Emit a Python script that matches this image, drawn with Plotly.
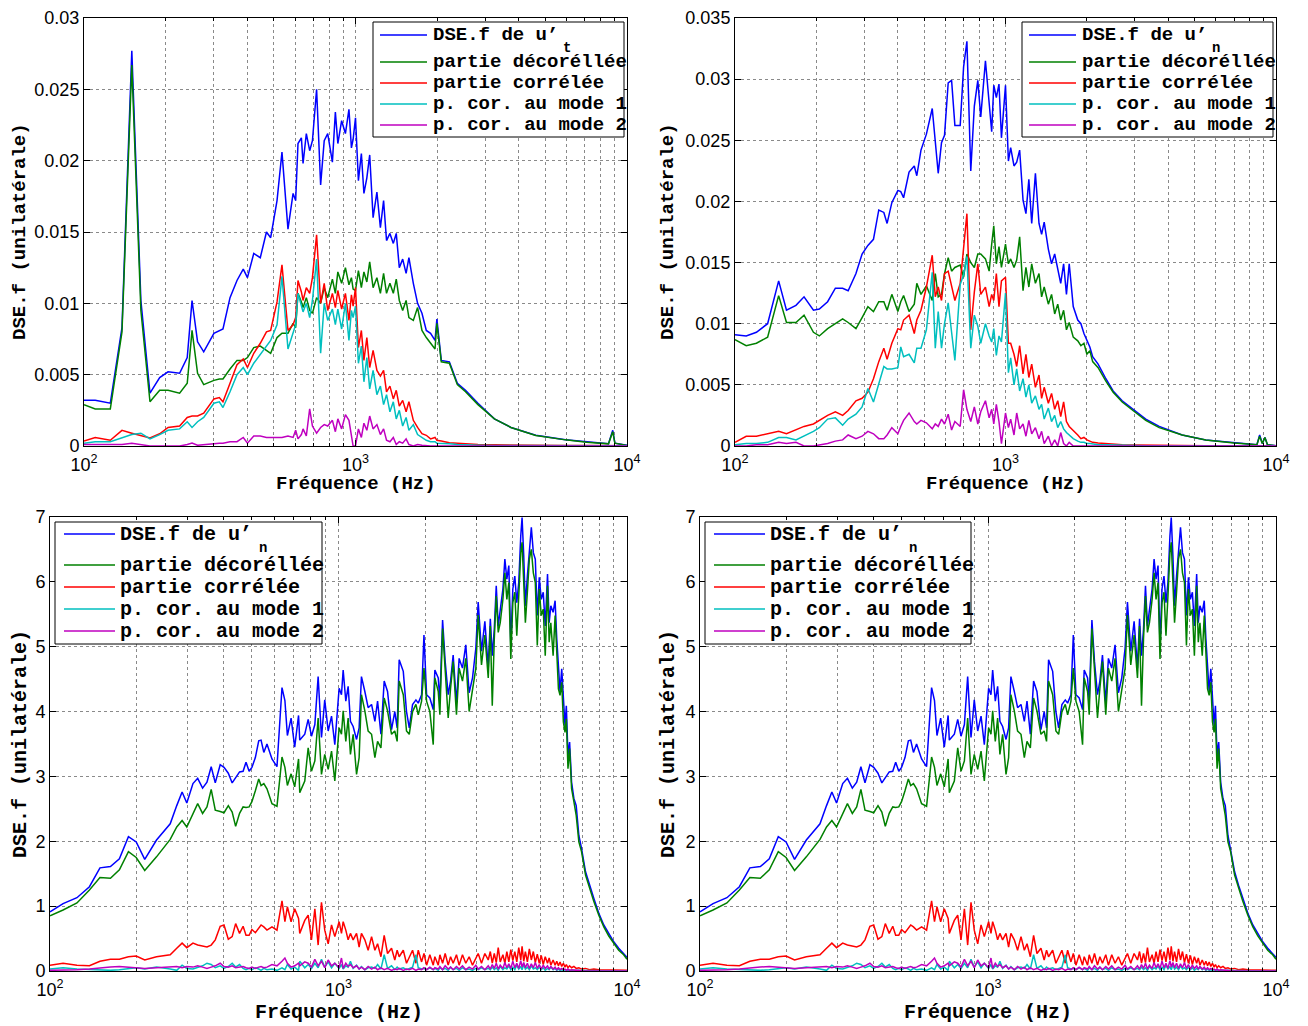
import plotly.graph_objects as go

# ---------------- top-left panel (u't) ----------------
F_TL = [100,110,125,138,150,162,175,190,204,225,
        240,250,262,276,301,315,325,345,366,386,
        400,422,446,470,487,514,536,564,589,602,
        614,632,641,659,678,694,719,744,767,790,
        822,843,861,889,918,946,966,980,1000,1025,
        1051,1074,1101,1128,1161,1199,1235,1269,1301,1339,
        1378,1413,1450,1492,1536,1573,1633,1693,1757,1823,
        1890,1963,1994,2070,2217,2372,2542,2825,3248,3737,
        4613,5939,7089,8548,8862,9023,10000]
TL_TOTAL = [0.0032,0.0032,0.0030,0.0083,0.0277,0.0102,0.0037,0.0048,0.0052,0.0051,
            0.0062,0.0102,0.0073,0.0066,0.0079,0.0081,0.0082,0.0104,0.0116,0.0124,
            0.0118,0.0135,0.0132,0.0150,0.0146,0.0172,0.0206,0.0152,0.0177,0.0172,
            0.0212,0.0216,0.0198,0.0219,0.0207,0.0214,0.0250,0.0183,0.0214,0.0219,
            0.0199,0.0234,0.0212,0.0228,0.0219,0.0236,0.0209,0.0215,0.0230,0.0186,
            0.0205,0.0177,0.0188,0.0204,0.0160,0.0178,0.0153,0.0172,0.0144,0.0149,
            0.0142,0.0149,0.0125,0.0131,0.0121,0.0132,0.0114,0.0100,0.0093,0.0081,
            0.0079,0.0074,0.0089,0.0060,0.0059,0.0044,0.0039,0.0030,0.0019,0.0013,
            0.00075,0.00044,0.00028,0.00016,0.0011,0.0002,0.00005]
TL_DECOR = [0.0029,0.0026,0.0026,0.0080,0.0267,0.0095,0.0031,0.0039,0.0039,0.0037,
            0.0044,0.0081,0.0051,0.0043,0.0046,0.0047,0.0047,0.0054,0.0060,0.0060,
            0.0062,0.0069,0.0070,0.0067,0.0065,0.0076,0.0079,0.0079,0.0086,0.0083,
            0.0107,0.0101,0.0097,0.0104,0.0095,0.0093,0.0104,0.0100,0.0111,0.0104,
            0.0117,0.0107,0.0122,0.0114,0.0125,0.0113,0.0118,0.0110,0.0109,0.0123,
            0.0111,0.0122,0.0115,0.0129,0.0111,0.0118,0.0107,0.0121,0.0107,0.0114,
            0.0107,0.0117,0.0102,0.0095,0.0102,0.0090,0.0088,0.0097,0.0081,0.0076,
            0.0072,0.0068,0.0086,0.0059,0.0058,0.0043,0.0038,0.0029,0.0019,0.0013,
            0.00074,0.00043,0.00027,0.00015,0.0010,0.0002,0.00004]
TL_COR = [0.00035,0.0006,0.0004,0.0011,0.0009,0.00075,0.00056,0.00086,0.0013,0.0014,
          0.0020,0.0021,0.0021,0.0023,0.0033,0.0034,0.0031,0.0044,0.0057,0.0061,
          0.0055,0.0065,0.0072,0.0080,0.0081,0.0101,0.0127,0.0081,0.0085,0.0090,
          0.0116,0.0108,0.0102,0.0111,0.0107,0.0118,0.0148,0.0100,0.0114,0.0095,
          0.0107,0.0097,0.0109,0.0096,0.0107,0.0088,0.0106,0.0098,0.0111,0.0069,
          0.0081,0.0060,0.0076,0.0055,0.0067,0.0053,0.0049,0.0053,0.0038,0.0042,
          0.0033,0.0039,0.0028,0.0032,0.0024,0.0031,0.0018,0.0013,0.00086,0.00075,
          0.0005,0.0006,0.0004,0.00035,0.00023,0.0002,0.00016,0.0001,0.00008,0.00006,
          0.00005,0.00004,0.00003,0.00002,0.00003,0.00002,0.00002]
TL_MODE1 = [0.0002,0.0003,0.0003,0.0006,0.0008,0.0009,0.0005,0.0008,0.0011,0.0012,
            0.0017,0.0013,0.0017,0.0020,0.0030,0.0031,0.0027,0.0038,0.0050,0.0055,
            0.0050,0.0058,0.0064,0.0070,0.0074,0.0085,0.0119,0.0068,0.0080,0.0085,
            0.0107,0.0098,0.0094,0.0100,0.0090,0.0102,0.0131,0.0065,0.0100,0.0088,
            0.0096,0.0085,0.0096,0.0082,0.0100,0.0074,0.0095,0.0090,0.0098,0.0058,
            0.0070,0.0045,0.0062,0.0040,0.0053,0.0036,0.0042,0.0029,0.0036,0.0024,
            0.0031,0.0019,0.0025,0.0014,0.0020,0.0011,0.0015,0.0008,0.0006,0.0004,
            0.0003,0.0003,0.0002,0.0002,0.00015,0.0001,0.0001,0.00006,0.00004,0.00003,
            0.00002,0.00002,0.00001,0.00001,0.00001,0.00001,0.00001]
TL_MODE2 = [0.0001,0.0001,0.0001,0.0001,0.0002,0.0001,0.0,0.0,0.0,0.0,
            0.0001,0.0002,0.00005,0.0001,0.0002,0.0002,0.0002,0.0003,0.0003,0.0006,
            0.0002,0.0007,0.0007,0.0006,0.0006,0.0006,0.0006,0.0007,0.0006,0.0011,
            0.0005,0.0008,0.0012,0.0007,0.0026,0.0014,0.0009,0.0013,0.0015,0.0014,
            0.0018,0.0010,0.0019,0.0012,0.0022,0.0018,0.0008,0.0,0.0,0.0012,
            0.0006,0.0016,0.0011,0.0021,0.0012,0.0015,0.0008,0.0012,0.0004,0.0003,
            0.0006,0.0001,0.0003,0.0002,0.0005,0.0001,0.0,0.0001,0.00005,0.0,
            0.0,0.0,0.0,0.0,0.0,0.0,0.0,0.0,0.0,0.0,
            0.0,0.0,0.0,0.0,0.0,0.0,0.0]

# ---------------- top-right panel (u'n) ----------------
F_TR = [100,110,120,132,145,155,168,180,195,205,
        220,235,250,262,280,295,310,325,340,355,
        365,380,400,410,420,440,460,470,487,510,
        536,550,564,580,595,614,632,650,680,700,
        720,744,767,790,810,843,870,889,905,925,
        946,966,1000,1025,1045,1075,1100,1128,1161,1190,
        1220,1250,1290,1330,1360,1390,1440,1480,1520,1560,
        1600,1640,1680,1720,1780,1850,1900,1950,2000,2050,
        2100,2200,2350,2500,2700,3000,3300,3700,4500,5500,
        7000,8500,8700,8900,9100,9300,10000]
TR_TOTAL = [0.0091,0.0090,0.0093,0.0100,0.0135,0.0111,0.0115,0.0122,0.0111,0.0112,
            0.0118,0.0129,0.0129,0.0127,0.0141,0.0157,0.0164,0.0169,0.0193,0.0191,
            0.0182,0.0199,0.0209,0.0208,0.0203,0.0224,0.0229,0.0221,0.0242,0.0255,
            0.0276,0.0252,0.0223,0.0248,0.0254,0.0297,0.0299,0.0262,0.0262,0.0310,
            0.0331,0.0225,0.0278,0.0299,0.0269,0.0315,0.0277,0.0257,0.0295,0.0285,
            0.0296,0.0252,0.0295,0.0233,0.0244,0.0229,0.0232,0.0242,0.0201,0.0190,
            0.0218,0.0182,0.0223,0.0182,0.0173,0.0183,0.0161,0.0149,0.0157,0.0146,
            0.0133,0.0149,0.0124,0.0149,0.0114,0.0103,0.0100,0.0092,0.0086,0.0081,
            0.0073,0.0067,0.0055,0.0045,0.0037,0.0029,0.0022,0.0016,0.0009,0.0005,
            0.00025,0.0001,0.0009,0.0002,0.0007,0.0001,0.00003]
TR_DECOR = [0.0087,0.0082,0.0084,0.0089,0.0123,0.0101,0.0101,0.0107,0.0093,0.0090,
            0.0096,0.0100,0.0104,0.0101,0.0096,0.0105,0.0114,0.0110,0.0118,0.0118,
            0.0111,0.0124,0.0110,0.0118,0.0123,0.0110,0.0116,0.0133,0.0124,0.0131,
            0.0119,0.0141,0.0122,0.0124,0.0141,0.0154,0.0143,0.0146,0.0148,0.0138,
            0.0157,0.0150,0.0146,0.0157,0.0157,0.0153,0.0143,0.0165,0.0180,0.0149,
            0.0163,0.0146,0.0165,0.0149,0.0153,0.0146,0.0152,0.0171,0.0127,0.0146,
            0.0130,0.0149,0.0133,0.0141,0.0122,0.0130,0.0116,0.0124,0.0108,0.0116,
            0.0103,0.0111,0.0095,0.0101,0.0089,0.0086,0.0082,0.0084,0.0075,0.0078,
            0.0069,0.0064,0.0053,0.0044,0.0036,0.0028,0.0021,0.0015,0.0009,0.0005,
            0.00024,0.0001,0.0008,0.0002,0.0007,0.0001,0.00003]
TR_COR = [0.0003,0.0008,0.0008,0.0010,0.0012,0.0010,0.0013,0.0016,0.0018,0.0021,
          0.0025,0.0028,0.0025,0.0029,0.0037,0.0039,0.0044,0.0055,0.0069,0.0080,
          0.0071,0.0084,0.0096,0.0095,0.0103,0.0107,0.0092,0.0103,0.0111,0.0130,
          0.0156,0.0122,0.0130,0.0119,0.0141,0.0143,0.0130,0.0119,0.0133,0.0164,
          0.0190,0.0095,0.0126,0.0149,0.0124,0.0130,0.0114,0.0124,0.0119,0.0141,
          0.0114,0.0135,0.0138,0.0084,0.0084,0.0075,0.0065,0.0082,0.0059,0.0075,
          0.0056,0.0067,0.0048,0.0058,0.0039,0.0048,0.0035,0.0043,0.0030,0.0037,
          0.0024,0.0036,0.0020,0.0016,0.0013,0.0009,0.0006,0.0007,0.0005,0.0004,
          0.0003,0.00025,0.0002,0.00015,0.0001,0.00008,0.00006,0.00005,0.00004,0.00003,
          0.00002,0.00002,0.00002,0.00002,0.00002,0.00002,0.00001]
TR_MODE1 = [0.0001,0.0002,0.0002,0.0003,0.0007,0.0007,0.0005,0.0008,0.0012,0.0015,
            0.0022,0.0023,0.0017,0.0022,0.0026,0.0032,0.0047,0.0036,0.0052,0.0065,
            0.0063,0.0063,0.0064,0.0081,0.0073,0.0075,0.0068,0.0080,0.0080,0.0095,
            0.0142,0.0080,0.0110,0.0080,0.0100,0.0117,0.0093,0.0070,0.0132,0.0140,
            0.0155,0.0080,0.0107,0.0098,0.0084,0.0100,0.0090,0.0085,0.0096,0.0074,
            0.0090,0.0085,0.0125,0.0060,0.0072,0.0050,0.0063,0.0045,0.0055,0.0040,
            0.0050,0.0035,0.0041,0.0030,0.0034,0.0022,0.0031,0.0020,0.0025,0.0015,
            0.0020,0.0014,0.0011,0.0009,0.0006,0.0004,0.0003,0.0003,0.0002,0.0002,
            0.00015,0.0001,0.0001,0.00008,0.00006,0.00004,0.00003,0.00002,0.00002,0.00001,
            0.00001,0.00001,0.00001,0.00001,0.00001,0.00001,0.00001]
TR_MODE2 = [0.0,0.0,0.0001,0.0001,0.0003,0.0002,0.0003,0.0,0.0,0.0001,
            0.0002,0.0004,0.0005,0.0009,0.0006,0.0008,0.0012,0.0010,0.0006,0.0006,
            0.0009,0.0015,0.0010,0.0016,0.0021,0.0027,0.0020,0.0018,0.0021,0.0019,
            0.0014,0.0018,0.0016,0.0022,0.0018,0.0026,0.0013,0.0020,0.0016,0.0046,
            0.0030,0.0020,0.0032,0.0018,0.0028,0.0037,0.0023,0.0030,0.0018,0.0034,
            0.0020,0.0002,0.0027,0.0015,0.0022,0.0009,0.0027,0.0014,0.0018,0.0008,
            0.0021,0.0010,0.0015,0.0006,0.0012,0.0002,0.0008,0.0,0.0005,0.0,
            0.0011,0.0002,0.0,0.0003,0.0,0.0,0.0,0.0,0.0,0.0,
            0.0,0.0,0.0,0.0,0.0,0.0,0.0,0.0,0.0,0.0,
            0.0,0.0,0.0,0.0,0.0,0.0,0.0]

# ---------------- bottom panels (identical, u'n) ----------------
F_B = [100,111,124,137,149,162,174,187,199,213,
       234,261,275,287,298,313,325,338,350,362,
       374,389,401,415,428,440,454,467,478,490,
       501,515,529,539,551,565,588,612,637,652,
       665,685,705,727,
       734,764,785,806,828,850,873,896,921,946,
       971,1005,1024,1038,1060,1080,1100,1124,1155,1179,
       1201,1234,1267,1302,1337,1366,1403,1440,1479,1527,
       1567,1597,1623,1677,1721,1759,1806,1855,1890,1941,
       1978,2020,2073,2130,2158,2217,2246,2295,2343,2400,
       2446,2497,2564,2619,2690,2762,2837,2914,2993,3049,
       3131,3216,3304,
       3359,3412,3467,3522,3578,3636,3714,3773,3833,3894,
       3956,4020,4084,4149,4215,4283,4328,4386,4444,4515,
       4587,4660,4735,4810,4887,4965,5044,5125,5207,5303,
       5373,5444,5545,5634,5709,5785,5861,5939,6018,6097,
       6162,6243,6325,6426,6545,6667,6810,6956,7183,7417,
       7676,7986,8310,8646,8996,9360,9738,9920,10000]
B_TOTAL = [0.91,1.04,1.13,1.30,1.59,1.61,1.73,2.07,1.99,1.72,
           2.02,2.27,2.55,2.76,2.59,2.89,2.97,2.82,2.91,3.15,
           2.90,3.18,3.14,3.05,2.90,2.98,3.07,3.08,3.22,3.08,
           3.14,3.29,3.55,3.56,3.37,3.50,3.27,3.15,4.37,4.17,
           3.63,3.90,3.45,3.94,
           3.56,3.65,3.88,3.62,3.80,4.54,3.60,4.18,3.70,3.93,
           3.49,4.36,4.26,4.64,4.16,4.39,3.85,3.77,3.57,3.75,
           4.54,4.31,4.06,4.11,3.85,4.16,3.65,4.47,4.31,3.72,
           4.00,3.75,4.80,4.62,4.00,3.75,4.11,4.18,4.13,4.26,
           5.18,4.26,4.21,4.03,4.64,4.52,4.16,5.41,4.77,4.26,
           4.47,4.87,4.13,4.82,4.67,5.03,4.29,4.52,4.98,5.69,
           4.93,5.39,4.67,
           5.43,4.86,5.27,5.94,5.32,5.58,5.89,6.35,6.04,6.25,
           5.02,5.89,6.09,5.68,5.99,6.71,6.99,6.40,5.63,6.09,
           6.55,6.84,6.45,6.35,5.48,6.07,5.73,5.84,5.32,6.12,
           5.37,5.63,5.53,5.71,5.12,4.66,4.30,4.66,4.14,3.78,
           4.09,3.32,3.53,2.91,2.66,2.55,2.09,1.89,1.53,1.32,
           1.12,0.89,0.71,0.58,0.45,0.35,0.27,0.22,0.21]
B_DECOR = [0.85,0.94,1.05,1.25,1.44,1.43,1.56,1.84,1.75,1.55,
           1.76,2.03,2.22,2.32,2.22,2.44,2.58,2.43,2.53,2.80,
           2.48,2.46,2.44,2.55,2.45,2.23,2.43,2.53,2.52,2.53,
           2.61,2.78,2.96,2.86,2.89,2.81,2.58,2.54,3.30,3.14,
           2.86,3.04,2.84,3.27,
           2.75,2.93,3.44,3.08,3.24,3.90,3.03,3.34,3.11,3.39,
           2.93,3.75,3.65,4.01,3.54,3.90,3.34,3.65,3.03,3.29,
           4.26,4.01,3.70,3.65,3.29,3.54,3.44,4.21,4.01,3.65,
           3.70,3.54,4.47,4.26,3.70,3.65,4.00,4.11,3.95,4.16,
           4.67,4.16,4.00,3.49,4.52,4.31,3.95,5.28,4.57,3.90,
           4.36,4.77,3.95,4.67,4.47,4.82,4.00,4.36,4.67,5.49,
           4.72,5.18,4.52,
           5.32,4.09,5.12,5.78,5.22,5.37,5.73,6.14,5.73,5.99,
           4.81,5.68,5.84,5.17,5.78,6.45,6.61,6.09,5.37,5.84,
           6.35,6.50,6.14,5.99,5.02,5.89,5.48,5.58,4.86,5.94,
           5.07,5.37,4.86,5.48,4.86,4.35,4.25,4.45,3.84,3.68,
           3.89,3.12,3.43,2.81,2.61,2.40,1.99,1.84,1.48,1.27,
           1.07,0.86,0.68,0.54,0.43,0.32,0.25,0.19,0.18]
B_COR = [0.09,0.12,0.09,0.08,0.15,0.18,0.18,0.22,0.23,0.17,
         0.22,0.25,0.35,0.43,0.36,0.43,0.40,0.39,0.37,0.40,
         0.48,0.69,0.71,0.49,0.53,0.73,0.58,0.69,0.55,0.55,
         0.64,0.59,0.66,0.71,0.68,0.63,0.68,0.63,1.08,0.76,
         0.99,0.76,0.96,0.81,
         0.58,0.78,0.86,0.48,0.96,0.40,1.06,0.63,0.42,0.71,
         0.53,0.76,0.58,0.76,0.63,0.48,0.58,0.48,0.58,0.37,
         0.58,0.48,0.32,0.53,0.32,0.42,0.22,0.55,0.27,0.35,
         0.17,0.32,0.22,0.32,0.12,0.22,0.32,0.12,0.32,0.14,
         0.27,0.09,0.25,0.09,0.22,0.09,0.25,0.12,0.27,0.09,
         0.22,0.12,0.25,0.09,0.25,0.12,0.22,0.09,0.19,0.27,
         0.12,0.27,0.17,
         0.30,0.12,0.27,0.13,0.36,0.14,0.25,0.12,0.30,0.14,
         0.33,0.16,0.30,0.14,0.36,0.17,0.38,0.15,0.30,0.14,
         0.34,0.17,0.30,0.13,0.26,0.12,0.24,0.10,0.22,0.12,
         0.20,0.09,0.17,0.09,0.15,0.08,0.14,0.07,0.12,0.06,
         0.10,0.05,0.08,0.05,0.07,0.04,0.05,0.03,0.04,0.02,
         0.03,0.02,0.02,0.01,0.01,0.01,0.01,0.01,0.01]
B_MODE1 = [0.03,0.05,0.03,0.02,0.01,0.01,0.02,0.04,0.05,0.03,
           0.06,0.03,0.01,0.09,0.04,0.03,0.05,0.08,0.12,0.10,
           0.05,0.08,0.04,0.07,0.12,0.06,0.10,0.04,0.02,0.04,
           0.02,0.05,0.03,0.01,0.04,0.02,0.03,0.01,0.05,0.02,
           0.10,0.03,0.06,0.01,
           0.15,0.05,0.10,0.04,0.12,0.05,0.18,0.06,0.14,0.05,
           0.12,0.04,0.10,0.03,0.08,0.06,0.15,0.04,0.09,0.03,
           0.07,0.02,0.05,0.06,0.04,0.10,0.03,0.25,0.04,0.08,
           0.02,0.06,0.03,0.05,0.02,0.04,0.06,0.25,0.05,0.03,
           0.04,0.02,0.05,0.02,0.04,0.01,0.05,0.02,0.04,0.01,
           0.06,0.02,0.04,0.01,0.05,0.02,0.03,0.01,0.04,0.02,
           0.05,0.02,0.04,
           0.02,0.06,0.02,0.05,0.01,0.07,0.02,0.05,0.03,0.08,
           0.02,0.06,0.02,0.09,0.03,0.07,0.02,0.10,0.03,0.06,
           0.02,0.08,0.03,0.05,0.02,0.06,0.02,0.05,0.01,0.04,
           0.02,0.06,0.02,0.04,0.01,0.03,0.01,0.02,0.01,0.02,
           0.01,0.01,0.01,0.01,0.01,0.01,0.0,0.0,0.0,0.0,
           0.0,0.0,0.0,0.0,0.0,0.0,0.0,0.0,0.0]
B_MODE2 = [0.01,0.01,0.02,0.03,0.05,0.06,0.07,0.06,0.06,0.04,
           0.05,0.06,0.07,0.05,0.07,0.06,0.08,0.06,0.04,0.06,
           0.08,0.12,0.07,0.06,0.08,0.05,0.06,0.07,0.05,0.04,
           0.06,0.04,0.06,0.07,0.05,0.06,0.10,0.08,0.15,0.20,
           0.12,0.06,0.08,0.12,
           0.08,0.14,0.12,0.06,0.18,0.08,0.15,0.05,0.17,0.08,
           0.12,0.05,0.20,0.04,0.12,0.07,0.10,0.05,0.08,0.03,
           0.06,0.02,0.07,0.03,0.06,0.02,0.05,0.02,0.04,0.01,
           0.03,0.02,0.04,0.01,0.03,0.02,0.04,0.01,0.03,0.02,
           0.05,0.02,0.06,0.02,0.05,0.03,0.07,0.02,0.08,0.03,
           0.06,0.02,0.07,0.03,0.08,0.02,0.06,0.03,0.09,0.03,
           0.07,0.02,0.08,
           0.03,0.10,0.04,0.12,0.03,0.09,0.04,0.13,0.05,0.11,
           0.04,0.15,0.05,0.12,0.04,0.16,0.06,0.13,0.05,0.12,
           0.04,0.11,0.05,0.13,0.04,0.10,0.03,0.09,0.04,0.08,
           0.03,0.07,0.03,0.06,0.02,0.05,0.02,0.04,0.02,0.03,
           0.01,0.03,0.01,0.02,0.01,0.01,0.01,0.0,0.0,0.0,
           0.0,0.0,0.0,0.0,0.0,0.0,0.0,0.0,0.0]

LEGEND_MAIN = "DSE.f de u\u2019"
LEGEND_SUB_T = "t"
LEGEND_SUB_N = "n"
LEGEND_OTHERS = ["partie d\u00e9cor\u00e9ll\u00e9e", "partie corr\u00e9l\u00e9e",
                 "p. cor. au mode 1", "p. cor. au mode 2"]
COLORS = ["#0000ff", "#008000", "#ff0000", "#00bfbf", "#bf00bf"]
X_TICKVALS = [100, 1000, 10000]
X_TICKTEXT = ["10<sup>2</sup>", "10<sup>3</sup>", "10<sup>4</sup>"]

for nm, arr, ref in [("TL", [TL_TOTAL, TL_DECOR, TL_COR, TL_MODE1, TL_MODE2], F_TL),
                     ("TR", [TR_TOTAL, TR_DECOR, TR_COR, TR_MODE1, TR_MODE2], F_TR),
                     ("B", [B_TOTAL, B_DECOR, B_COR, B_MODE1, B_MODE2], F_B)]:
    for i, a in enumerate(arr):
        if len(a) != len(ref):
            raise ValueError(f"{nm} series {i}: {len(a)} vs {len(ref)}")

W, H = 1308, 1026
panels = [
    dict(f=F_TL, s=[TL_TOTAL, TL_DECOR, TL_COR, TL_MODE1, TL_MODE2], k=1, sub=LEGEND_SUB_T,
         x=(84, 627), y=(18, 446), yr=[0, 0.03], dt=0.005,
         box=(373, 22, 624, 137), lx=(380, 427), tx=431, rows=[35, 62, 83, 104, 125],
         subxy=(561, 48), fs=19, ytx=20),
    dict(f=F_TR, s=[TR_TOTAL, TR_DECOR, TR_COR, TR_MODE1, TR_MODE2], k=2, sub=LEGEND_SUB_N,
         x=(735, 1276), y=(18, 446), yr=[0, 0.035], dt=0.005,
         box=(1022, 22, 1273, 137), lx=(1029, 1076), tx=1080, rows=[35, 62, 83, 104, 125],
         subxy=(1210, 48), fs=19, ytx=668),
    dict(f=F_B, s=[B_TOTAL, B_DECOR, B_COR, B_MODE1, B_MODE2], k=3, sub=LEGEND_SUB_N,
         x=(50, 627), y=(517, 971), yr=[0, 7], dt=1,
         box=(55, 522, 322, 644), lx=(64, 115), tx=118, rows=[534, 565, 587, 609, 631],
         subxy=(257, 548), fs=20, ytx=20),
    dict(f=F_B, s=[B_TOTAL, B_DECOR, B_COR, B_MODE1, B_MODE2], k=4, sub=LEGEND_SUB_N,
         x=(700, 1276), y=(517, 971), yr=[0, 7], dt=1,
         box=(705, 522, 971, 644), lx=(714, 765), tx=768, rows=[534, 565, 587, 609, 631],
         subxy=(907, 548), fs=20, ytx=668),
]

fig = go.Figure()
TICKFONT = dict(family="Liberation Sans, Arial, sans-serif", size=18, color="black")
MONO = "Liberation Mono, Courier New, monospace"
annotations, shapes = [], []
layout = dict(width=W, height=H, margin=dict(l=0, r=0, t=0, b=0, pad=0, autoexpand=False),
              paper_bgcolor="white", plot_bgcolor="white", showlegend=False)

minor_vals = [v * m for v in (100, 1000) for m in range(2, 10)]
px = lambda v: v / W
py = lambda v: 1 - v / H

for p in panels:
    k = p["k"]
    sfx = "" if k == 1 else str(k)
    names = [LEGEND_MAIN] + LEGEND_OTHERS
    for s, name, col in zip(p["s"], names, COLORS):
        fig.add_trace(go.Scatter(x=p["f"], y=s, mode="lines", name=name,
                                 line=dict(color=col, width=1.5),
                                 xaxis="x" + sfx, yaxis="y" + sfx))
    x0, x1 = p["x"]
    y0, y1 = p["y"]
    axcommon = dict(showline=True, linecolor="black", linewidth=1, mirror="allticks",
                    ticks="inside", ticklen=6, tickcolor="black", tickfont=TICKFONT,
                    showgrid=True, gridcolor="#8a8a8a", griddash="dot", gridwidth=1,
                    zeroline=False, fixedrange=True, automargin=False)
    layout["xaxis" + sfx] = dict(axcommon, type="log", range=[2, 4],
                                 domain=[px(x0), px(x1)], anchor="y" + sfx,
                                 tickvals=X_TICKVALS, ticktext=X_TICKTEXT,
                                 ticklabelstandoff=2,
                                 minor=dict(tickvals=minor_vals, ticks="inside", ticklen=3,
                                            tickcolor="black", showgrid=True,
                                            gridcolor="#8a8a8a", griddash="dot"))
    layout["yaxis" + sfx] = dict(axcommon, range=p["yr"], domain=[py(y1), py(y0)],
                                 anchor="x" + sfx, dtick=p["dt"], tick0=0)
    # legend drawn as box + line samples + text
    bx0, by0, bx1, by1 = p["box"]
    shapes.append(dict(type="rect", xref="paper", yref="paper", x0=px(bx0), x1=px(bx1),
                       y0=py(by1), y1=py(by0), line=dict(color="black", width=1),
                       fillcolor="white", layer="above"))
    font = dict(family=MONO, size=p["fs"], color="black", weight="bold")
    for name, col, ry in zip(names, COLORS, p["rows"]):
        shapes.append(dict(type="line", xref="paper", yref="paper",
                           x0=px(p["lx"][0]), x1=px(p["lx"][1]), y0=py(ry), y1=py(ry),
                           line=dict(color=col, width=1.5), layer="above"))
        annotations.append(dict(text=name, xref="paper", yref="paper", x=px(p["tx"]), y=py(ry),
                                xanchor="left", yanchor="middle", showarrow=False, font=font))
    annotations.append(dict(text=p["sub"], xref="paper", yref="paper",
                            x=px(p["subxy"][0]), y=py(p["subxy"][1]), xanchor="left",
                            yanchor="middle", showarrow=False,
                            font=dict(family=MONO, size=14, color="black", weight="bold")))
    # axis titles
    annotations.append(dict(text="Fr\u00e9quence (Hz)", xref="paper", yref="paper",
                            x=px((x0 + x1) / 2), y=py(y1 + (38 if k in (1, 2) else 41)),
                            showarrow=False, xanchor="center", yanchor="middle",
                            font=dict(family=MONO, size=p["fs"], color="black", weight="bold")))
    annotations.append(dict(text="DSE.f (unilat\u00e9rale)", xref="paper", yref="paper",
                            x=px(p["ytx"]), y=py((y0 + y1) / 2), showarrow=False, textangle=-90,
                            xanchor="center", yanchor="middle",
                            font=dict(family=MONO, size=p["fs"], color="black", weight="bold")))

layout["annotations"] = annotations
layout["shapes"] = shapes
fig.update_layout(**layout)
fig.write_html("out.html", config={"displayModeBar": False},
               post_script="document.body.style.margin='0';document.body.style.overflow='hidden';")
